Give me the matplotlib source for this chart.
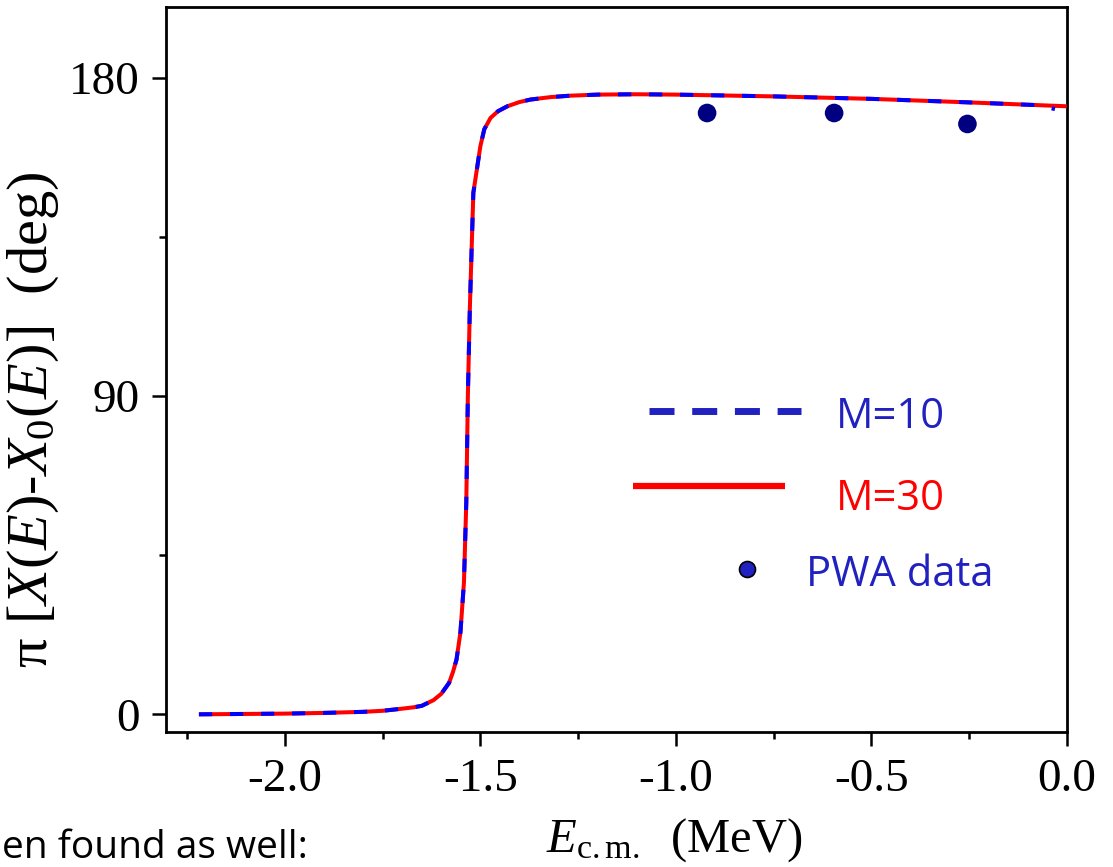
import matplotlib
matplotlib.use("Agg")
import matplotlib.pyplot as plt
from matplotlib.lines import Line2D
from matplotlib.ticker import MultipleLocator

# Phase difference pi[X(E) - X0(E)] versus centre-of-mass energy
e_m30 = [-2.22, -2.0, -1.9, -1.8, -1.75, -1.7, -1.67, -1.65, -1.62, -1.60,
         -1.58, -1.57, -1.561, -1.551, -1.542, -1.536, -1.532, -1.527, -1.518,
         -1.50, -1.49, -1.474, -1.455, -1.431, -1.40, -1.372, -1.32, -1.27,
         -1.2, -1.1, -1.0, -0.9, -0.75, -0.5, -0.25, 0.0]
phase_m30 = [0.0, 0.2, 0.4, 0.7, 1.0, 1.6, 2.0, 2.4, 4.0, 5.8,
             8.9, 12.0, 15.5, 23.2, 37.3, 60.0, 90.0, 114.5, 147.5,
             160.7, 165.5, 168.7, 170.6, 172.0, 173.2, 173.9, 174.6, 175.0,
             175.3, 175.4, 175.3, 175.1, 174.8, 174.1, 173.1, 172.0]

e_m10 = e_m30[:-1] + [-0.07, -0.03]
phase_m10 = phase_m30[:-1] + [172.3, 171.2]

# partial-wave analysis points
e_pwa = [-0.92, -0.595, -0.254]
phase_pwa = [170.1, 170.1, 167.0]

x_ticks = [-2.0, -1.5, -1.0, -0.5, 0.0]
x_ticklabels = ["-2.0", "-1.5", "-1.0", "-0.5", "0.0"]
y_ticks = [0, 90, 180]

legend_labels = ["M=10", "M=30", "PWA data"]

plt.rcParams["mathtext.fontset"] = "custom"
plt.rcParams["mathtext.rm"] = "Liberation Serif"
plt.rcParams["mathtext.it"] = "Liberation Serif:italic"
plt.rcParams["axes.unicode_minus"] = False

serif = "Liberation Serif"
sans = "Open Sans"

fig = plt.figure(figsize=(11.13, 8.67), dpi=100)
ax = fig.add_axes([165.7 / 1113, 1 - 732 / 867, (1066.7 - 165.7) / 1113, (732 - 7.3) / 867])

ax.plot(e_m30, phase_m30, color="#ff0000", lw=2.9, solid_capstyle="butt", zorder=3)
ax.plot(e_m10, phase_m10, color="#0000ff", lw=2.9, dashes=(3.3, 4.4), zorder=4)
ax.scatter(e_pwa, phase_pwa, s=180, color="#000080", edgecolors="none", zorder=5)

ax.set_xlim(-2.305, 0.0)
ax.set_ylim(-5, 200)
ax.set_xticks(x_ticks)
ax.set_xticklabels(x_ticklabels)
ax.set_yticks(y_ticks)
ax.xaxis.set_minor_locator(MultipleLocator(0.25))
ax.yaxis.set_minor_locator(MultipleLocator(45))

for sp in ax.spines.values():
    sp.set_linewidth(2.0)
ax.tick_params(which="major", direction="out", length=10, width=1.8,
               labelsize=34, pad=9)
ax.tick_params(which="minor", direction="out", length=5, width=1.8)
for lab in ax.get_xticklabels() + ax.get_yticklabels():
    lab.set_fontfamily(serif)

# axis titles
fig.text(33 / 1113, 1 - 420 / 867, "π [$X(E)$-$X_0(E)$]  (deg)", rotation=90,
         ha="center", va="center", fontsize=42, family=serif)
fig.text(674 / 1113, 1 - 852 / 867, r"$E_{\mathrm{c.m.}}$  (MeV)",
         ha="center", va="baseline", fontsize=35, family=serif)

# key
key_blue = "#2121c0"
ax.add_line(Line2D([649 / 1113, 801 / 1113], [1 - 410.7 / 867, 1 - 410.7 / 867],
                   transform=fig.transFigure, color=key_blue, lw=5,
                   dashes=(3.6, 2.55)))
ax.add_line(Line2D([633 / 1113, 785 / 1113], [1 - 485.7 / 867, 1 - 485.7 / 867],
                   transform=fig.transFigure, color="#ff0000", lw=4.5,
                   solid_capstyle="butt"))
ax.add_line(Line2D([747.3 / 1113], [1 - 569.3 / 867], transform=fig.transFigure,
                   marker="o", markersize=11.5, markerfacecolor=key_blue,
                   markeredgecolor="black", markeredgewidth=1.2, ls="none"))
for line in ax.lines[-3:]:
    line.set_clip_on(False)

fig.text(836 / 1113, 1 - 428.3 / 867, legend_labels[0], color=key_blue,
         fontsize=30, family=sans, va="baseline", ha="left")
fig.text(836 / 1113, 1 - 510 / 867, legend_labels[1], color="#ff0000",
         fontsize=30, family=sans, va="baseline", ha="left")
fig.text(806 / 1113, 1 - 586 / 867, legend_labels[2], color=key_blue,
         fontsize=30, family=sans, va="baseline", ha="left")

# trailing sentence of the surrounding page
fig.text(2 / 1113, 1 - 858 / 867, "en found as well:", color="black",
         fontsize=28, family=sans, va="baseline", ha="left")

fig.savefig("out.png", dpi=100, facecolor="white")
